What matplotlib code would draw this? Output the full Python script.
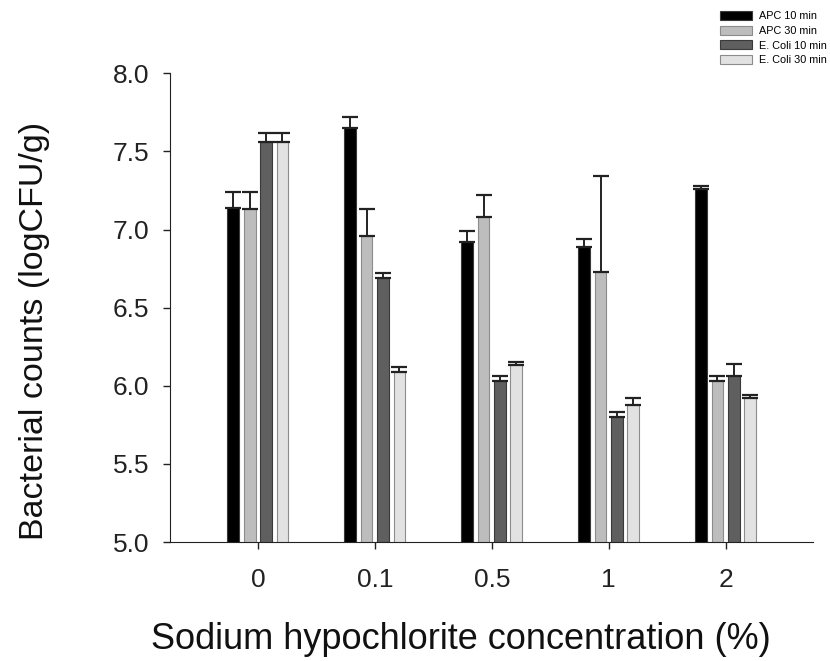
import numpy as np
import matplotlib
matplotlib.use("Agg")
import matplotlib.pyplot as plt

plt.rcParams['font.family'] = ['Liberation Sans', 'DejaVu Sans']

# concentration groups
concentrations = ['0', '0.1', '0.5', '1', '2']
series_names = ['APC 10 min', 'APC 30 min', 'E. Coli 10 min', 'E. Coli 30 min']

# mean counts (logCFU/g)
apc_10 = [7.14, 7.65, 6.92, 6.89, 7.26]
apc_30 = [7.13, 6.96, 7.08, 6.73, 6.03]
ecoli_10 = [7.56, 6.69, 6.03, 5.80, 6.06]
ecoli_30 = [7.56, 6.09, 6.13, 5.88, 5.92]

# upper error bars
apc_10_err = [0.10, 0.07, 0.07, 0.05, 0.02]
apc_30_err = [0.11, 0.17, 0.14, 0.61, 0.03]
ecoli_10_err = [0.06, 0.03, 0.03, 0.03, 0.08]
ecoli_30_err = [0.06, 0.03, 0.02, 0.04, 0.02]

means = [apc_10, apc_30, ecoli_10, ecoli_30]
errors = [apc_10_err, apc_30_err, ecoli_10_err, ecoli_30_err]
face_colors = ['#000000', '#bdbdbd', '#5f5f5f', '#e2e2e2']
edge_colors = ['#3a3a3a', '#8c8c8c', '#3a3a3a', '#8c8c8c']

fig = plt.figure(figsize=(8.3, 6.61), dpi=100)
ax = fig.add_axes([0.205, 0.18, 0.775, 0.709])

x = np.arange(len(concentrations))
pitch = 0.14
width = 0.1

for i in range(4):
    pos = x + (i - 1.5) * pitch
    ax.bar(pos, means[i], width, bottom=0, color=face_colors[i],
           edgecolor=edge_colors[i], linewidth=0.8, label=series_names[i],
           zorder=2)
    ax.errorbar(pos, means[i], yerr=[np.zeros(len(x)), errors[i]],
                fmt='none', ecolor='#222222', elinewidth=1.4,
                capsize=5.5, capthick=1.6, zorder=3)

ax.set_ylim(5.0, 8.0)
ax.set_xlim(-0.75, 4.75)
ax.set_yticks([5.0, 5.5, 6.0, 6.5, 7.0, 7.5, 8.0])
ax.set_yticklabels(['5.0', '5.5', '6.0', '6.5', '7.0', '7.5', '8.0'])
ax.set_xticks(x)
ax.set_xticklabels(concentrations)

ax.spines['top'].set_visible(False)
ax.spines['right'].set_visible(False)
ax.spines['left'].set_color('#222222')
ax.spines['bottom'].set_color('#222222')
ax.tick_params(axis='both', direction='out', length=5, width=1,
               colors='#222222', labelsize=19, pad=10)
ax.tick_params(axis='x', pad=14)

# axis titles placed in figure coordinates
fig.text(0.042, 0.5, 'Bacterial counts (logCFU/g)', fontsize=24.5,
         color='#111111', rotation=90, ha='center', va='center')
fig.text(0.555, 0.032, 'Sodium hypochlorite concentration (%)', fontsize=26,
         color='#111111', ha='center', va='center')

fig.legend(loc='upper right', bbox_to_anchor=(1.0, 0.988), frameon=False,
           fontsize=7.8, handlelength=3.0, handleheight=0.9,
           labelspacing=0.4, handletextpad=0.6, borderaxespad=0.1,
           borderpad=0.2)

fig.savefig('out.png', dpi=100)
